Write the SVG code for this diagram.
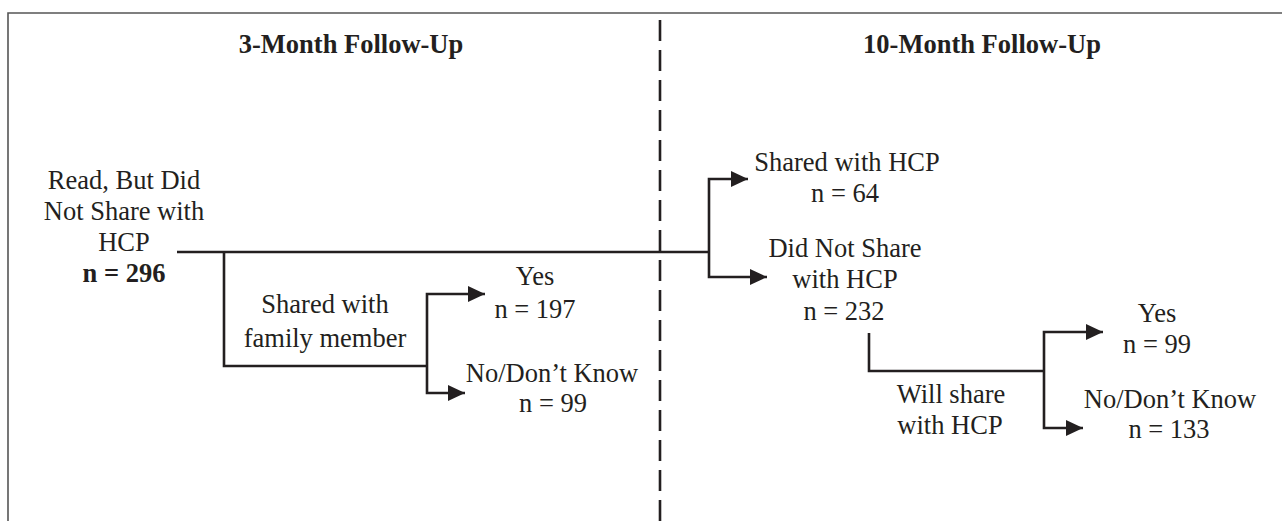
<svg xmlns="http://www.w3.org/2000/svg" width="1282" height="521" viewBox="0 0 1282 521" font-family="'Liberation Serif', Tinos, 'Times New Roman', 'DejaVu Serif', serif">
<style>
text{font-family:'Liberation Serif',Tinos,'Times New Roman','DejaVu Serif',serif;font-size:26.5px;fill:#231f20;text-anchor:middle}
.b{font-weight:bold}
.ln{fill:none;stroke:#231f20;stroke-width:2.6}
.frame{fill:none;stroke:#555;stroke-width:1.6}
.dash{fill:none;stroke:#231f20;stroke-width:2.6;stroke-dasharray:21 9}
</style>
<defs>
<marker id="ah" markerUnits="userSpaceOnUse" markerWidth="18" markerHeight="18" refX="17" refY="8" orient="auto">
<path d="M0,0 L17,8 L0,16 Z" fill="#231f20"/>
</marker>
</defs>
<g id="frame">
<path class="frame" d="M8,521 V13 H1282"/>
<line class="dash" x1="660" y1="20" x2="660" y2="521"/>
</g>
<g id="headings">
<text class="b" x="351" y="53">3-Month Follow-Up</text>
<text class="b" x="982" y="53">10-Month Follow-Up</text>
</g>
<g id="connectors">
<path class="ln" d="M177,252 H709"/>
<path class="ln" d="M224,252 V366 H427"/>
<path class="ln" d="M427,366 V294 H485" marker-end="url(#ah)"/>
<path class="ln" d="M427,366 V393 H465" marker-end="url(#ah)"/>
<path class="ln" d="M709,252 V179 H748" marker-end="url(#ah)"/>
<path class="ln" d="M709,252 V277 H767" marker-end="url(#ah)"/>
<path class="ln" d="M869,333 V371 H1044"/>
<path class="ln" d="M1044,371 V332 H1103" marker-end="url(#ah)"/>
<path class="ln" d="M1044,371 V428 H1083" marker-end="url(#ah)"/>
</g>
<g id="root">
<text x="124" y="189">Read, But Did</text>
<text x="124" y="220">Not Share with</text>
<text x="124" y="251">HCP</text>
<text class="b" x="124" y="282">n = 296</text>
</g>
<g id="family">
<text x="325" y="313">Shared with</text>
<text x="325" y="347">family member</text>
</g>
<g id="yes3">
<text x="535" y="285">Yes</text>
<text x="535" y="318">n = 197</text>
</g>
<g id="no3">
<text x="552" y="382">No/Don’t Know</text>
<text x="553" y="412">n = 99</text>
</g>
<g id="shared10">
<text x="847" y="171">Shared with HCP</text>
<text x="845" y="202">n = 64</text>
</g>
<g id="notshared10">
<text x="845" y="257">Did Not Share</text>
<text x="845" y="288">with HCP</text>
<text x="844" y="320">n = 232</text>
</g>
<g id="will">
<text x="951" y="403">Will share</text>
<text x="950" y="434">with HCP</text>
</g>
<g id="yes10">
<text x="1157" y="322">Yes</text>
<text x="1157" y="353">n = 99</text>
</g>
<g id="no10">
<text x="1170" y="408">No/Don’t Know</text>
<text x="1169" y="438">n = 133</text>
</g>
</svg>
